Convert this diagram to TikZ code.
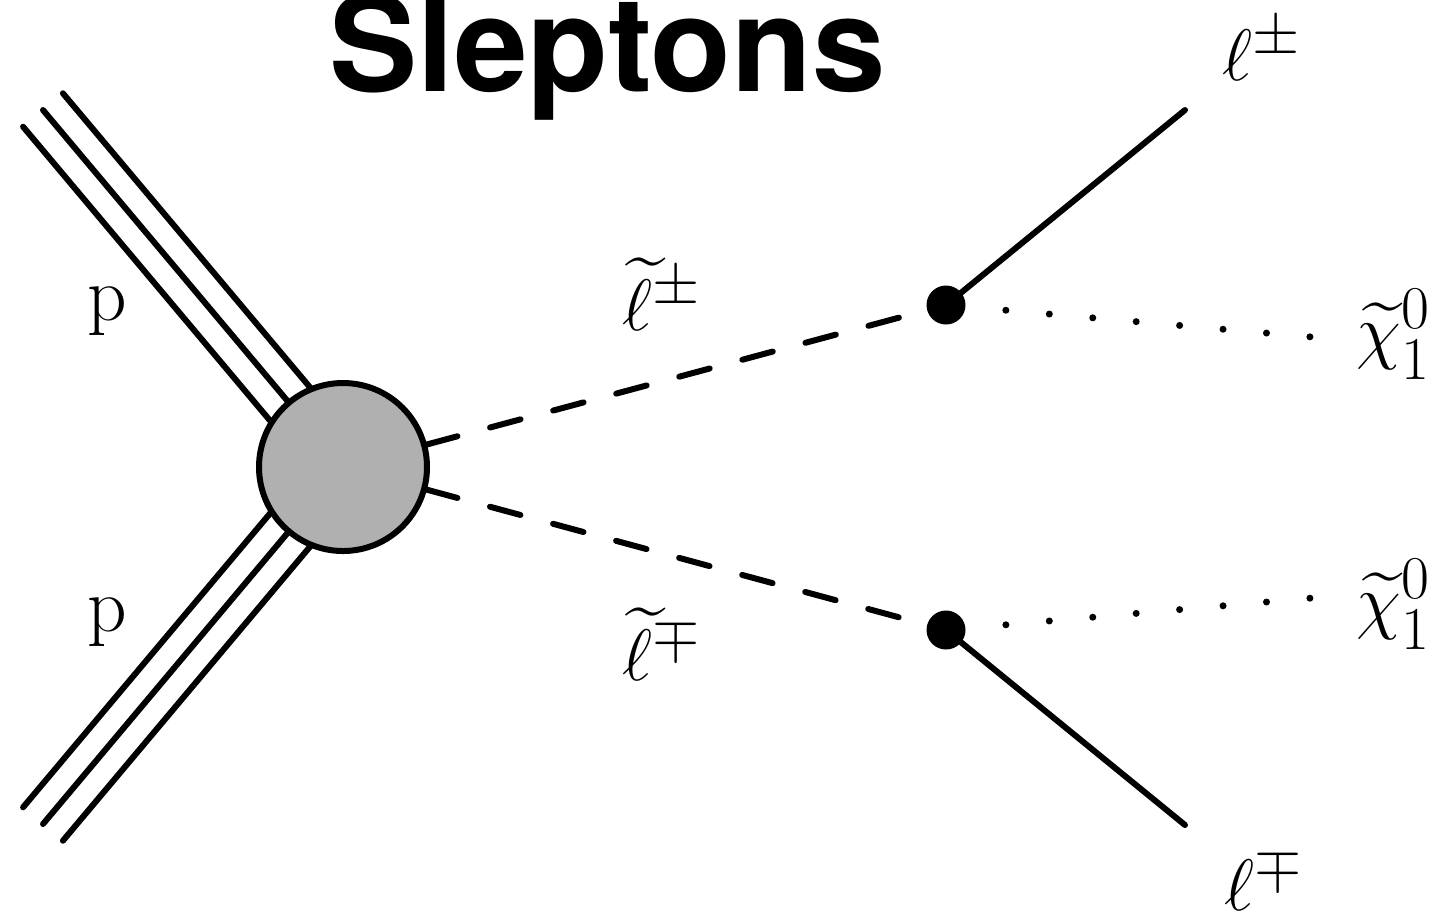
\documentclass[tikz,border=0pt]{standalone}
\usepackage{fontspec}
\setsansfont{TeX Gyre Heros}
\usepackage{amsmath}
\usetikzlibrary{calc}

\DeclareMathSizes{22}{22}{18}{14}
\definecolor{blobgray}{HTML}{B0B0B0}

\begin{document}
\begin{tikzpicture}[
        proton/.style={line width=0.06cm, line cap=round},
        fermion/.style={line width=0.06cm, line cap=round},
        scalar/.style={line width=0.06cm, line cap=round, dash pattern=on 0.315cm off 0.338cm},
        neutral/.style={line width=0.07cm, line cap=round, dash pattern=on 0pt off 0.436cm, dash phase=0.03cm},
        blob/.style={circle, draw, line width=0.06cm, fill=blobgray, minimum size=1.68cm, inner sep=0pt},
        vtx/.style={circle, fill=black, minimum size=0.39cm, inner sep=0pt, outer sep=0pt},
        lbl/.style={anchor=base west, inner sep=0pt, font=\fontsize{22}{26}\selectfont}
    ]

        \useasboundingbox (0,0) rectangle (14.46,-9.11);

        % Titel
        \node[anchor=base, inner sep=0pt, font=\sffamily\bfseries\fontsize{37.6}{44}\selectfont] (title) at (6.075,-0.91) {Sleptons};

        % Protonen (y = -1.10 / -8.24)
        \coordinate (ctr) at (3.43,-4.67);
        \coordinate (pin1) at (0.43,-1.10);
        \coordinate (pin2) at (0.43,-8.24);

        \draw [proton] (pin1) -- (ctr);
        \draw [proton] ($(pin1)!0.26cm!90:(ctr)$) -- ($(ctr)!0.26cm!-90:(pin1)$);
        \draw [proton] ($(pin1)!0.26cm!-90:(ctr)$) -- ($(ctr)!0.26cm!90:(pin1)$);
        \draw [proton] (pin2) -- (ctr);
        \draw [proton] ($(pin2)!0.26cm!90:(ctr)$) -- ($(ctr)!0.26cm!-90:(pin2)$);
        \draw [proton] ($(pin2)!0.26cm!-90:(ctr)$) -- ($(ctr)!0.26cm!90:(pin2)$);

        \node [blob] (blob) at (ctr) {};

        \node [lbl] (p1) at (0.87,-3.20) {$\mathrm{p}$};
        \node [lbl] (p2) at (0.87,-6.31) {$\mathrm{p}$};

        % Sleptonen
        \node [vtx] (v1) at (9.46,-3.05) {};
        \node [vtx] (v2) at (9.46,-6.30) {};

        \draw [scalar] (blob) -- (v1);
        \draw [scalar] (blob) -- (v2);

        \node [lbl] (sl1) at (6.22,-3.30) {$\widetilde{\ell}^{\pm}$};
        \node [lbl] (sl2) at (6.22,-6.80) {$\widetilde{\ell}^{\mp}$};

        % Zerfall: Leptonen und Neutralinos
        \coordinate (lout1) at (11.85,-1.10);
        \coordinate (lout2) at (11.85,-8.25);
        \coordinate (chi1) at (13.12,-3.37);
        \coordinate (chi2) at (13.12,-5.98);

        \draw [fermion] (v1) -- (lout1);
        \draw [fermion] (v2) -- (lout2);
        \draw [neutral] (v1) -- (chi1);
        \draw [neutral] (v2) -- (chi2);

        \node [lbl] (l1) at (12.22,-0.80) {$\ell^{\pm}$};
        \node [lbl] (l2) at (12.24,-9.10) {$\ell^{\mp}$};
        \node [lbl] (x1) at (13.56,-3.55) {$\widetilde{\chi}^0_1$};
        \node [lbl] (x2) at (13.56,-6.25) {$\widetilde{\chi}^0_1$};

    \end{tikzpicture}
\end{document}
